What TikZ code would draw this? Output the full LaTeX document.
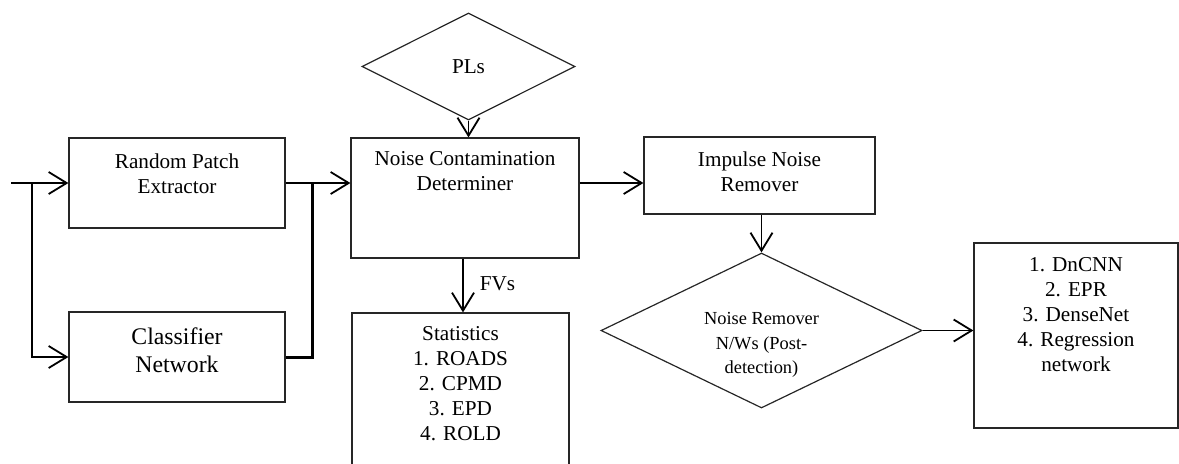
\documentclass[tikz,border=0pt]{standalone}
\usepackage{fontspec}
\setmainfont{Liberation Serif}
\usetikzlibrary{positioning, arrows.meta, shapes.geometric}
\tikzset{
    blk/.style={
           rectangle,
           draw=black!85, line width=0.6pt,
           inner sep=0pt,
           },
    dmd/.style={
           diamond,
           draw=black!85, line width=0.6pt,
           inner sep=0pt,
           },
    txt/.style={
           inner sep=0pt,
           align=center,
           font=\fontsize{10.6}{12.4}\selectfont,
           },
    arr/.style={
           line width=0.9pt,
           -{Straight Barb[length=9pt,width=11pt,line width=0.9pt]},
           },
}

\begin{document}
\begin{tikzpicture}[x=0.5pt, y=-0.5pt]
  \useasboundingbox (0,0) rectangle (1179,463);
  % boxes
  \node[blk, minimum width=108pt,  minimum height=45pt]   (rpe)  at (177,   183)   {};
  \node[blk, minimum width=108pt,  minimum height=45pt]   (cls)  at (177,   357)   {};
  \node[dmd, minimum width=106.5pt,minimum height=53.5pt] (pls)  at (468.5, 66.5)  {};
  \node[blk, minimum width=114pt,  minimum height=60pt]   (ncd)  at (465,   198)   {};
  \node[blk, minimum width=108.5pt,minimum height=79.5pt] (stat) at (460.5, 392.5) {};
  \node[blk, minimum width=115.5pt,minimum height=38.5pt] (inr)  at (759.5, 175.5) {};
  \node[dmd, minimum width=160.5pt,minimum height=77.5pt] (nrn)  at (761.5, 330.5) {};
  \node[blk, minimum width=102pt,  minimum height=92.5pt] (out)  at (1076,  335.5) {};
  % texts
  \node[txt, below=8pt of rpe.north]    (rpe-t)  {Random Patch\\Extractor};
  \node[txt, below=8pt of cls.north, font=\fontsize{11.9}{14}\selectfont] (cls-t) {Classifier\\Network};
  \node[txt]                            (pls-t)  at (468.5, 67) {PLs};
  \node[txt, below=7pt of ncd.north]    (ncd-t)  {Noise Contamination\\Determiner};
  \node[txt, below=7pt of stat.north]   (stat-t) {Statistics\\1. ROADS\\2. CPMD\\3. EPD\\4. ROLD};
  \node[txt, below=7.5pt of inr.north]  (inr-t)  {Impulse Noise\\Remover};
  \node[txt, font=\fontsize{9.2}{12.4}\selectfont] (nrn-t) at (761.5, 345) {Noise Remover\\N/Ws (Post-\\detection)};
  \node[txt, below=7.5pt of out.north]  (out-t)  {1. DnCNN\\2. EPR\\3. DenseNet\\4. Regression\\network};
  % connectors
  \coordinate (in) at (11, 183);
  \coordinate (sp) at (32, 183);
  \coordinate (jn) at (312, 183);
  \draw[arr] (in) -- (rpe.west);
  \draw[arr] (sp) |- (cls.west);
  \draw[arr] (rpe.east) -- (ncd.west |- jn);
  \draw[line width=1.5pt] (cls.east) -| (jn);
  \draw[arr] (pls.south) -- (pls.south |- ncd.north);
  \draw[arr] (ncd.east |- jn) -- (inr.west |- jn);
  \draw[arr] (ncd.south -| 463,0) -- node[txt, right=8pt, yshift=1pt] (fvs) {FVs} (stat.north -| 463,0);
  \draw[arr] (nrn.north |- inr.south) -- (nrn.north);
  \draw[arr] (nrn.east) -- (nrn.east -| out.west);
\end{tikzpicture}
\end{document}
